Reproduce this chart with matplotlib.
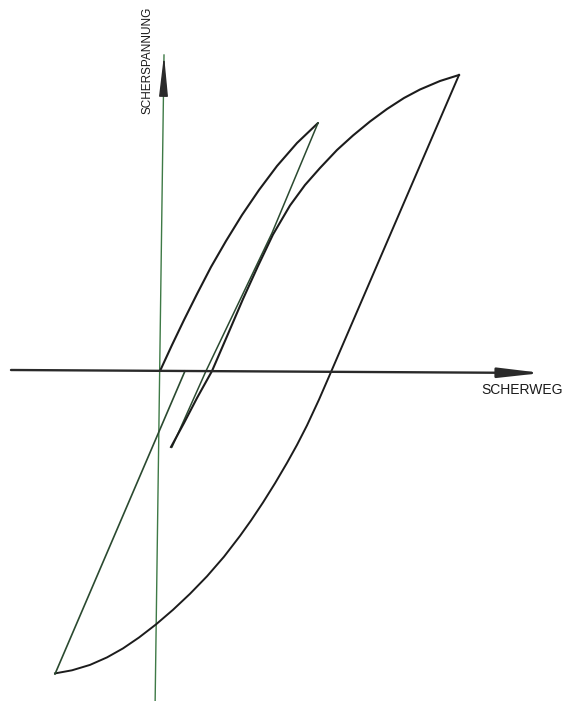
import matplotlib.pyplot as plt

# Shear stress / shear displacement hysteresis (Masing type loops)
# x = Scherweg, y = Scherspannung, arbitrary units

# virgin loading from the origin up to the first reversal
virgin_x = [0.00, 0.12, 0.24, 0.37, 0.51, 0.66, 0.82, 0.99, 1.17, 1.37, 1.58]
virgin_y = [0.00, 0.26, 0.51, 0.77, 1.04, 1.30, 1.56, 1.81, 2.05, 2.28, 2.48]

# first unloading (small loop)
unload1_x = [1.58, 1.12, 0.46, 0.12]
unload1_y = [2.48, 1.38, 0.00, -0.76]

# reloading up to the large reversal point
reload1_x = [0.11, 0.24, 0.37, 0.52, 0.68, 0.83, 0.98, 1.13, 1.30, 1.45,
             1.60, 1.77, 1.93, 2.10, 2.27, 2.44, 2.60, 2.80, 2.99]
reload1_y = [-0.76, -0.52, -0.27, 0.00, 0.37, 0.72, 1.05, 1.365, 1.655, 1.86,
             2.03, 2.21, 2.355, 2.495, 2.62, 2.73, 2.815, 2.90, 2.96]

# unloading from the large reversal down to the negative peak
unload2_x = [2.99, 1.71, 1.59, 1.47, 1.37, 1.27, 1.15, 1.03, 0.91, 0.80, 0.64,
             0.47, 0.30, 0.13, -0.04, -0.21, -0.37, -0.53, -0.70, -0.88, -1.05]
unload2_y = [2.96, -0.01, -0.286, -0.544, -0.739, -0.919, -1.123, -1.315, -1.495,
             -1.649, -1.857, -2.053, -2.228, -2.388, -2.534, -2.665, -2.774,
             -2.864, -2.939, -2.993, -3.024]

# reloading from the negative peak (stops at the x axis)
reload2_x = [-1.05, 0.25]
reload2_y = [-3.03, 0.00]

# axis lines (start, arrow tip)
xaxis_start, xaxis_tip = (-1.49, 0.01), (3.82, -0.02)
yaxis_start, yaxis_tip = (-0.05, -3.40), (0.04, 3.16)
yhead_base = (0.035, 2.75)

curve_col = '#1c1c1c'
line_col = '#2b4a30'
label_font = ['Liberation Sans', 'DejaVu Sans']

fig = plt.figure(figsize=(5.66, 7.01), dpi=100)
ax = fig.add_axes([0, 0, 1, 1])
ax.set_xlim(-1.60, 4.06)
ax.set_ylim(-3.30, 3.71)
ax.axis('off')

# vertical axis: thin greenish shaft, dark arrow head
ax.plot([yaxis_start[0], yaxis_tip[0]], [yaxis_start[1], yaxis_tip[1]],
        color='#3e7a46', lw=1.0)
ax.annotate('', xy=yaxis_tip, xytext=yhead_base,
            arrowprops=dict(arrowstyle='-|>,head_length=2.5,head_width=0.27',
                            color='#2a2a2a', lw=1.0, mutation_scale=10,
                            shrinkA=0, shrinkB=0))
# horizontal axis
ax.annotate('', xy=xaxis_tip, xytext=xaxis_start,
            arrowprops=dict(arrowstyle='-|>,head_length=2.6,head_width=0.3',
                            color='#2a2a2a', lw=1.7, mutation_scale=10,
                            shrinkA=0, shrinkB=0))

ax.plot(virgin_x, virgin_y, color=curve_col, lw=1.5, solid_capstyle='round')
ax.plot(unload1_x, unload1_y, color=line_col, lw=1.1)
ax.plot(reload1_x, reload1_y, color=curve_col, lw=1.5)
ax.plot(unload2_x, unload2_y, color=curve_col, lw=1.4)
ax.plot(reload2_x, reload2_y, color=line_col, lw=1.2)

ax.text(-0.125, 3.11, 'SCHERSPANNUNG', rotation=90, ha='center', va='center',
        fontsize=8.5, family=label_font, color='#1a1a1a')
ax.text(3.62, -0.195, 'SCHERWEG', ha='center', va='center',
        fontsize=10, family=label_font, color='#1a1a1a')

fig.savefig('out.png', dpi=100)
